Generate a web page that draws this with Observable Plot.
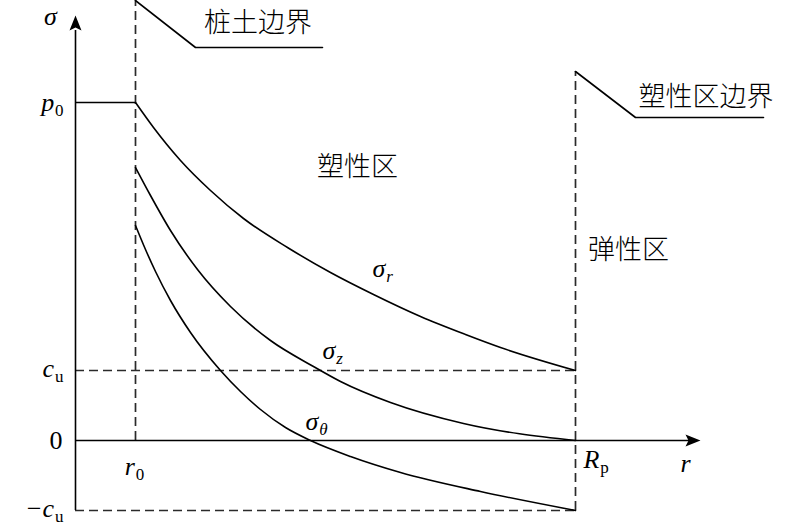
<!DOCTYPE html>
<html>
<head>
<meta charset="utf-8">
<script src="https://cdn.jsdelivr.net/npm/d3@7"></script>
<script src="https://cdn.jsdelivr.net/npm/@observablehq/plot@0.6"></script>
<style>
  html, body { margin: 0; padding: 0; background: #fff; }
  #chart svg { display: block; }
</style>
</head>
<body>
<div id="chart"></div>
<script>
// ---- characteristic values (schematic units) ----
const r0 = 0.6;      // pile radius
const Rp = 5.0;      // plastic zone radius
const p0 = 33.8;     // pile-soil pressure
const cu = 7.0;      // undrained shear strength

// ---- stress curves in the plastic zone ----
const rSigmaR = [0.60, 0.78, 1.05, 1.35, 1.68, 2.12, 2.55, 2.98, 3.45, 3.90, 4.25, 5.00];
const sigmaR  = [33.8, 31.3, 28.0, 25.0, 22.2, 19.3, 16.8, 14.6, 12.4, 10.6, 9.3, 7.0];
const rSigmaZ = [0.60, 0.75, 0.95, 1.22, 1.55, 1.95, 2.38, 2.65, 3.15, 3.88, 5.00];
const sigmaZ  = [27.3, 24.5, 21.0, 17.1, 13.4, 10.0, 7.4, 5.9, 3.8, 1.7, 0.0];
const rSigmaT = [0.60, 0.70, 0.80, 0.95, 1.15, 1.45, 1.65, 1.85, 2.10, 2.35, 2.75, 3.25, 4.05, 5.00];
const sigmaT  = [21.5, 19.1, 16.9, 14.0, 10.8, 7.0, 4.9, 3.1, 1.3, 0.0, -1.6, -3.2, -5.1, -7.0];

// ---- texts ----
const zoneLabels = ["桩土边界", "塑性区", "弹性区", "塑性区边界"];
// "_" = upright subscript, "~" = italic subscript
const tickLabels = ["p_0", "c_u", "0", "−c_u"];
const axisLabels = ["σ", "r", "r_0", "R_p"];
const curveLabels = ["σ~r", "σ~z", "σ~θ"];

const serif = "'Liberation Serif', 'Times New Roman', serif";
const cjk = "'Noto Sans CJK SC', sans-serif";

const arrowUp = {draw(ctx) { ctx.moveTo(0, 0); ctx.lineTo(6, 15); ctx.lineTo(0, 12); ctx.lineTo(-6, 15); ctx.closePath(); }};
const arrowRight = {draw(ctx) { ctx.moveTo(0, 0); ctx.lineTo(-15, -6); ctx.lineTo(-12, 0); ctx.lineTo(-15, 6); ctx.closePath(); }};

const dash = "9,5";
const dashStroke = {stroke: "#2a2a2a", strokeWidth: 1.7, strokeDasharray: dash};
const solid = {stroke: "black", strokeWidth: 1.6};
const pts = (xs, ys) => xs.map((x, i) => ({x, y: ys[i]}));

function label(text, x, y, opt = {}) {
  return Plot.text([{text, x, y}], {
    x: "x", y: "y", text: "text",
    fontFamily: opt.cjk ? cjk : serif,
    fontSize: opt.size || 26,
    fontStyle: opt.cjk ? "normal" : (opt.upright ? "normal" : "italic"),
    fontWeight: opt.cjk ? 300 : "normal",
    textAnchor: opt.anchor || "middle",
    fill: "black",
    dy: opt.dy || 0
  });
}

const chart = Plot.plot({
  width: 800,
  height: 530,
  margin: 0,
  x: {domain: [-0.75, 7.25], axis: null},
  y: {domain: [-9, 44], axis: null},
  style: {background: "white"},
  marks: [
    // dashed guides
    Plot.ruleX([r0], {y1: 0, y2: 44, ...dashStroke}),
    Plot.ruleX([Rp], {y1: -cu, y2: 36.9, ...dashStroke}),
    Plot.ruleY([cu], {x1: 0, x2: Rp, ...dashStroke}),
    Plot.ruleY([-cu], {x1: 0, x2: Rp, ...dashStroke}),
    // axes
    Plot.ruleX([0], {y1: -cu, y2: 41, ...solid}),
    Plot.ruleY([0], {x1: 0, x2: 6.15, ...solid}),
    Plot.dot([{x: 0, y: 42.5}], {x: "x", y: "y", symbol: arrowUp, fill: "black", stroke: "none"}),
    Plot.dot([{x: 6.25, y: 0}], {x: "x", y: "y", symbol: arrowRight, fill: "black", stroke: "none"}),
    // p0 plateau inside pile
    Plot.ruleY([p0], {x1: 0, x2: r0, ...solid}),
    // stress curves
    Plot.line(pts(rSigmaR, sigmaR), {x: "x", y: "y", curve: "monotone-x", ...solid}),
    Plot.line(pts(rSigmaZ, sigmaZ), {x: "x", y: "y", curve: "monotone-x", ...solid}),
    Plot.line(pts(rSigmaT, sigmaT), {x: "x", y: "y", curve: "monotone-x", ...solid}),
    // leader lines for boundary labels
    Plot.line([{x: r0, y: 44}, {x: r0 + 0.6, y: 39.3}, {x: 2.47, y: 39.3}], {x: "x", y: "y", ...solid}),
    Plot.line([{x: Rp, y: 36.9}, {x: Rp + 0.6, y: 32.3}, {x: 6.88, y: 32.3}], {x: "x", y: "y", ...solid}),
    // zone labels
    label(zoneLabels[0], 1.825, 41.7, {cjk: true, size: 27}),
    label(zoneLabels[1], 2.82, 27.3, {cjk: true, size: 27}),
    label(zoneLabels[2], 5.53, 19.0, {cjk: true, size: 27}),
    label(zoneLabels[3], 6.305, 34.3, {cjk: true, size: 27}),
    // tick-like labels
    label(tickLabels[0], -0.12, p0, {anchor: "end"}),
    label(tickLabels[1], -0.12, cu, {anchor: "end", dy: -2}),
    label(tickLabels[2], -0.13, 0, {anchor: "end", upright: true}),
    label(tickLabels[3], -0.12, -cu, {anchor: "end", dy: -2}),
    // axis labels
    label(axisLabels[0], -0.25, 42.4),
    label(axisLabels[1], 6.1, -2.3),
    label(axisLabels[2], 0.59, -2.6),
    label(axisLabels[3], 5.08, -1.9, {anchor: "start"}),
    // curve labels
    label(curveLabels[0], 2.97, 17.2, {anchor: "start"}),
    label(curveLabels[1], 2.47, 9.0, {anchor: "start"}),
    label(curveLabels[2], 2.30, 1.9, {anchor: "start"})
  ]
});

// subscripts: split "main_sub" (upright) / "main~sub" (italic)
d3.select(chart).selectAll("text").each(function() {
  const s = this.textContent;
  const m = s.match(/^(.*?)([_~])(.*)$/);
  if (!m) return;
  const el = d3.select(this);
  el.text(null);
  el.append("tspan").text(m[1]);
  el.append("tspan")
    .attr("font-size", 17)
    .attr("font-style", m[2] === "~" ? "italic" : "normal")
    .attr("dy", "0.3em")
    .attr("dx", "0.05em")
    .text(m[3]);
});

document.getElementById("chart").appendChild(chart);
</script>
</body>
</html>
